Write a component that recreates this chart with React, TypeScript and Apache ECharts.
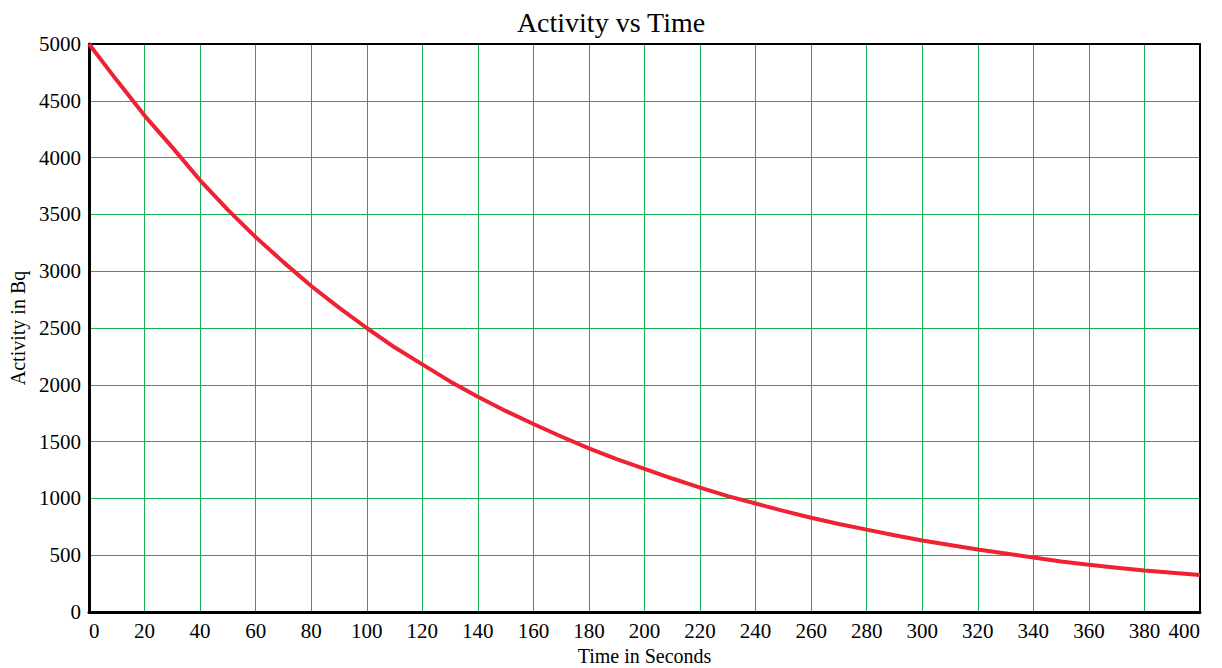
import React, { useEffect, useRef } from "react";
import * as echarts from "echarts";

const times = [0, 10, 20, 30, 40, 50, 60, 70, 80, 90, 100, 110, 120, 130, 140, 150, 160, 170, 180, 190, 200, 210, 220, 230, 240, 250, 260, 270, 280, 290, 300, 310, 320, 330, 340, 350, 360, 370, 380, 390, 400];
const activity = [5000, 4680, 4370, 4090, 3800, 3540, 3300, 3080, 2870, 2680, 2500, 2330, 2180, 2030, 1895, 1770, 1655, 1545, 1440, 1345, 1260, 1175, 1095, 1020, 955, 890, 830, 775, 725, 675, 630, 590, 550, 515, 480, 445, 415, 390, 365, 345, 325];

const FONT = "Liberation Serif";

export default function App() {
  const ref = useRef<HTMLDivElement>(null);
  useEffect(() => {
    if (!ref.current) return;
    const chart = echarts.init(ref.current, null, { renderer: "svg" });
    const frameAxis = {
      type: "value",
      axisLine: { show: true, onZero: false, lineStyle: { color: "#000", width: 2 } },
      axisTick: { show: false },
      axisLabel: { show: false },
      splitLine: { show: false },
    };
    chart.setOption({
      animation: false,
      backgroundColor: "#ffffff",
      title: {
        text: "Activity vs Time",
        left: "center",
        top: 3,
        textStyle: { fontFamily: FONT, fontSize: 28, fontWeight: "normal", color: "#000" },
      },
      grid: { left: 89, right: 22, top: 44, bottom: 56, show: false, outerBoundsMode: "none", containLabel: false },
      xAxis: [
        {
          type: "value",
          min: 0,
          max: 400,
          interval: 20,
          name: "Time in Seconds",
          nameLocation: "middle",
          nameGap: 34,
          nameTextStyle: { fontFamily: FONT, fontSize: 20, color: "#000" },
          axisLine: { show: true, onZero: false, lineStyle: { color: "#000", width: 3 } },
          axisTick: { show: false },
          axisLabel: { fontFamily: FONT, fontSize: 21, color: "#000", margin: 8, alignMinLabel: "left", alignMaxLabel: "right" },
          splitLine: { show: true, lineStyle: { color: "#16b04c", width: 1 } },
        },
        { ...frameAxis, position: "top", min: 0, max: 400 },
      ],
      yAxis: [
        {
          type: "value",
          min: 0,
          max: 5000,
          interval: 500,
          name: "Activity in Bq",
          nameLocation: "middle",
          nameGap: 61,
          nameTextStyle: { fontFamily: FONT, fontSize: 20, color: "#000" },
          axisLine: { show: true, onZero: false, lineStyle: { color: "#000", width: 3 } },
          axisTick: { show: false },
          axisLabel: { fontFamily: FONT, fontSize: 21, color: "#000", margin: 8, formatter: (v: number) => String(v) },
          splitLine: { show: true, lineStyle: { color: "#16b04c", width: 1 } },
        },
        { ...frameAxis, position: "right", min: 0, max: 5000 },
      ],
      series: [
        {
          type: "line",
          data: times.map((t, i) => [t, activity[i]]),
          showSymbol: false,
          smooth: false,
          lineStyle: { color: "#ee2233", width: 4 },
          z: 5,
        },
      ],
    });
    return () => chart.dispose();
  }, []);
  return <div ref={ref} style={{ width: 1222, height: 668, position: "absolute", left: 0, top: 0 }} />;
}
